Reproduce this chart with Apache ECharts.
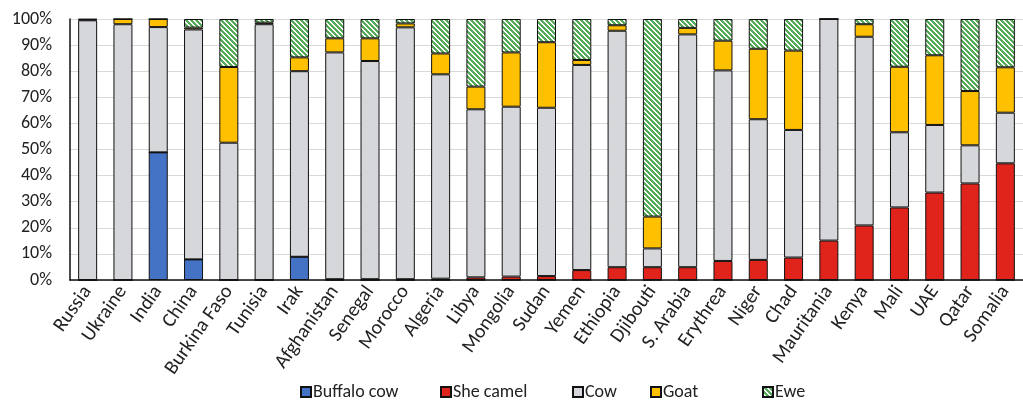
<!DOCTYPE html>
<html>
<head>
<meta charset="utf-8">
<script src="https://cdn.jsdelivr.net/npm/echarts@6/dist/echarts.min.js"></script>
<style>
html,body{margin:0;padding:0;background:#fff;}
#chart{width:1023px;height:400px;}
</style>
</head>
<body>
<div id="chart"></div>
<script>
const categories = ["Russia","Ukraine","India","China","Burkina Faso","Tunisia","Irak","Afghanistan","Senegal","Morocco","Algeria","Libya","Mongolia","Sudan","Yemen","Ethiopia","Djibouti","S. Arabia","Erythrea","Niger","Chad","Mauritania","Kenya","Mali","UAE","Qatar","Somalia"];
const buffaloCow = [0,0,48.9,7.9,0,0,8.9,0,0,0,0,0,0,0,0,0,0,0,0,0,0,0,0,0,0,0,0];
const sheCamel = [0,0,0,0,0,0,0,0.3,0.3,0.3,0.5,1.0,1.3,1.5,3.8,4.9,4.9,4.9,7.3,7.7,8.6,15.1,20.9,27.8,33.5,37.0,44.7];
const cow = [99.5,98.0,48.0,88.1,52.6,98.0,71.1,86.9,83.6,96.5,78.3,64.4,65.1,64.5,78.6,90.6,7.2,89.2,73.0,53.9,48.9,84.9,72.3,28.8,25.9,14.6,19.4];
const goat = [0.3,2.0,3.1,0.7,29.0,0.6,5.3,5.4,8.7,1.5,8.0,8.7,20.8,25.1,1.9,2.1,12.2,2.5,11.4,27.0,30.4,0,4.8,25.1,26.7,20.8,17.4];
const ewe = [0.2,0,0,3.3,18.4,1.4,14.7,7.4,7.4,1.7,13.2,25.9,12.8,8.9,15.7,2.4,75.7,3.4,8.3,11.4,12.1,0,2.0,18.3,13.9,27.6,18.5];
const yTicks = [0,10,20,30,40,50,60,70,80,90,100];

// hatch pattern for Ewe
const tile = document.createElement('canvas');
tile.width = 5; tile.height = 5;
const tctx = tile.getContext('2d');
tctx.fillStyle = '#ffffff';
tctx.fillRect(0,0,5,5);
tctx.fillStyle = '#55ab58';
for (let y = 0; y < 5; y++) {
  for (let x = 0; x < 5; x++) {
    if (((x - y) % 5 + 5) % 5 < 3) tctx.fillRect(x, y, 1, 1);
  }
}

const font = 'Carlito, Lato, "Open Sans", sans-serif';
const chart = echarts.init(document.getElementById('chart'));
const border = {borderColor:'#111', borderWidth:1};
function mk(name, data, color){
  return {name, type:'bar', stack:'all', data, barWidth:19,
    itemStyle: Object.assign({color}, border), emphasis:{disabled:true}};
}
const legendX = [300, 440, 572, 650, 762];
const names = ['Buffalo cow','She camel','Cow','Goat','Ewe'];
chart.setOption({
  animation:false,
  textStyle:{fontFamily:font},
  grid:{left:70, top:19, width:958, height:261, containLabel:false},
  legend: names.map((n,i)=>({
    data:[n], left:legendX[i], top:383, itemWidth:10, itemHeight:10, itemGap:0, padding:0,
    icon:'rect', textStyle:{fontSize:18, color:'#222', fontFamily:font, padding:[0,0,0,-3]},
    selectedMode:false
  })),
  xAxis:{type:'category', data:categories,
    axisLine:{lineStyle:{color:'#111', width:1.5}},
    axisTick:{show:false},
    axisLabel:{rotate:55, fontSize:20, color:'#222', margin:8, interval:0, fontFamily:font}
  },
  yAxis:{type:'value', min:0, max:100, interval:10,
    axisLine:{show:true, lineStyle:{color:'#111', width:1.5}},
    axisTick:{show:false},
    splitLine:{lineStyle:{color:'#d9d9d9', width:1}},
    axisLabel:{formatter:'{value}%', fontSize:18, color:'#222', margin:18, fontFamily:font,
      customValues: yTicks}
  },
  series:[
    mk('Buffalo cow', buffaloCow, '#4472c4'),
    mk('She camel', sheCamel, '#e0241b'),
    mk('Cow', cow, '#d6d7da'),
    mk('Goat', goat, '#ffc000'),
    mk('Ewe', ewe, {image: tile, repeat:'repeat'})
  ]
});
</script>
</body>
</html>
